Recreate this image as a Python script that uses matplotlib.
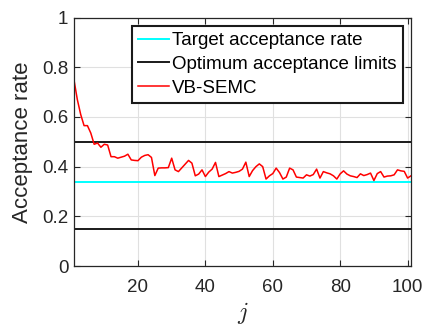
import numpy as np
import matplotlib
matplotlib.use('Agg')
import matplotlib.pyplot as plt

# acceptance rate of VB-SEMC per iteration j
j = np.arange(1, 102)
acc = [0.75, 0.67, 0.61, 0.565, 0.565, 0.535, 0.49, 0.495, 0.478, 0.49,
       0.487, 0.44, 0.44, 0.434, 0.438, 0.442, 0.45, 0.427, 0.425, 0.424,
       0.438, 0.445, 0.448, 0.437, 0.364, 0.394, 0.395, 0.395, 0.396, 0.434,
       0.387, 0.38, 0.395, 0.41, 0.425, 0.414, 0.363, 0.37, 0.387, 0.36,
       0.378, 0.39, 0.417, 0.36, 0.366, 0.372, 0.38, 0.374, 0.377, 0.381,
       0.39, 0.418, 0.36, 0.384, 0.4, 0.411, 0.4, 0.35, 0.363, 0.372,
       0.394, 0.376, 0.35, 0.358, 0.394, 0.387, 0.358, 0.356, 0.354, 0.367,
       0.362, 0.368, 0.39, 0.354, 0.38, 0.375, 0.371, 0.363, 0.35, 0.371,
       0.383, 0.37, 0.363, 0.36, 0.356, 0.371, 0.364, 0.368, 0.374, 0.344,
       0.372, 0.38, 0.358, 0.362, 0.363, 0.367, 0.387, 0.383, 0.381, 0.354,
       0.363]

target = 0.34
opt_low, opt_high = 0.15, 0.5

plt.rcParams['font.family'] = ['Liberation Sans', 'DejaVu Sans']
plt.rcParams['mathtext.fontset'] = 'cm'

fig = plt.figure(figsize=(4.25, 3.25), dpi=100)
ax = fig.add_axes([0.174, 0.1815, 0.793, 0.7645])

ax.axhline(target, color='cyan', lw=1.4, label='Target acceptance rate')
ax.axhline(opt_high, color='#1a1a1a', lw=1.4, label='Optimum acceptance limits')
ax.axhline(opt_low, color='#1a1a1a', lw=1.4)
ax.plot(j, acc, color='red', lw=1.1, label='VB-SEMC')

ax.set_xlim(1, 101)
ax.set_ylim(0, 1)
ax.set_xticks([20, 40, 60, 80, 100])
ax.set_yticks([0, 0.2, 0.4, 0.6, 0.8, 1])
ax.set_yticklabels(['0', '0.2', '0.4', '0.6', '0.8', '1'])
ax.grid(True, color='#e0e0e0', lw=0.8)
ax.set_axisbelow(True)
ax.tick_params(direction='in', top=True, right=True, labelsize=13.5,
               color='#262626', labelcolor='#262626', length=4)
ax.tick_params(axis='x', pad=9.5)
ax.tick_params(axis='y', pad=4)
for s in ax.spines.values():
    s.set_color('#262626')
    s.set_linewidth(0.9)

ax.set_xlabel('$j$', fontsize=17, color='#262626')
ax.xaxis.set_label_coords(0.5, -0.138)
ax.set_ylabel('Acceptance rate', fontsize=16, color='#262626')
ax.yaxis.set_label_coords(-0.122, 0.5)

leg = ax.legend(loc='upper right', bbox_to_anchor=(0.976, 0.966),
                borderaxespad=0, fontsize=13.5, fancybox=False,
                framealpha=1, edgecolor='#1a1a1a', handlelength=1.65,
                handletextpad=0.2, labelspacing=0.36, borderpad=0.32)
leg.get_frame().set_linewidth(1.5)

fig.savefig('out.png', dpi=100)
